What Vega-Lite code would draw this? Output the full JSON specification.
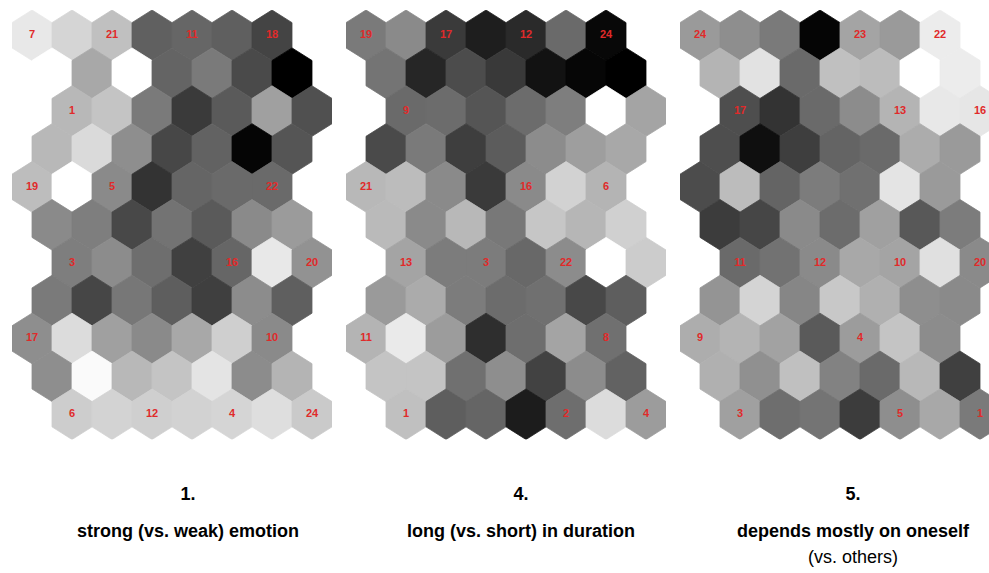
{
 "$schema": "https://vega.github.io/schema/vega-lite/v6.json",
 "padding": {"left": 12, "top": 10, "right": 0, "bottom": 0},
 "background": "white",
 "bounds": "flush",
 "spacing": 14,
 "config": {"view": {"stroke": null}, "font": "Liberation Sans"},
 "resolve": {"scale": {"x": "independent", "y": "independent"}},
 "datasets": {"cells": [
  {"p":1,"r":0,"x":0,"v":232,"lab":"7"},{"p":1,"r":0,"x":1,"v":213},{"p":1,"r":0,"x":2,"v":192,"lab":"21"},{"p":1,"r":0,"x":3,"v":96},{"p":1,"r":0,"x":4,"v":102,"lab":"11"},{"p":1,"r":0,"x":5,"v":95},{"p":1,"r":0,"x":6,"v":68,"lab":"18"},
  {"p":1,"r":1,"x":0.5,"v":255},{"p":1,"r":1,"x":1.5,"v":168},{"p":1,"r":1,"x":2.5,"v":255},{"p":1,"r":1,"x":3.5,"v":100},{"p":1,"r":1,"x":4.5,"v":122},{"p":1,"r":1,"x":5.5,"v":74},{"p":1,"r":1,"x":6.5,"v":0},
  {"p":1,"r":2,"x":1,"v":184,"lab":"1"},{"p":1,"r":2,"x":2,"v":196},{"p":1,"r":2,"x":3,"v":122},{"p":1,"r":2,"x":4,"v":58},{"p":1,"r":2,"x":5,"v":90},{"p":1,"r":2,"x":6,"v":160},{"p":1,"r":2,"x":7,"v":80},
  {"p":1,"r":3,"x":0.5,"v":184},{"p":1,"r":3,"x":1.5,"v":218},{"p":1,"r":3,"x":2.5,"v":142},{"p":1,"r":3,"x":3.5,"v":71},{"p":1,"r":3,"x":4.5,"v":98},{"p":1,"r":3,"x":5.5,"v":5},{"p":1,"r":3,"x":6.5,"v":85},
  {"p":1,"r":4,"x":0,"v":189,"lab":"19"},{"p":1,"r":4,"x":1,"v":255},{"p":1,"r":4,"x":2,"v":138,"lab":"5"},{"p":1,"r":4,"x":3,"v":51},{"p":1,"r":4,"x":4,"v":101},{"p":1,"r":4,"x":5,"v":106},{"p":1,"r":4,"x":6,"v":106,"lab":"22"},
  {"p":1,"r":5,"x":0.5,"v":138},{"p":1,"r":5,"x":1.5,"v":126},{"p":1,"r":5,"x":2.5,"v":72},{"p":1,"r":5,"x":3.5,"v":115},{"p":1,"r":5,"x":4.5,"v":90},{"p":1,"r":5,"x":5.5,"v":138},{"p":1,"r":5,"x":6.5,"v":155},
  {"p":1,"r":6,"x":1,"v":126,"lab":"3"},{"p":1,"r":6,"x":2,"v":140},{"p":1,"r":6,"x":3,"v":110},{"p":1,"r":6,"x":4,"v":64},{"p":1,"r":6,"x":5,"v":102,"lab":"16"},{"p":1,"r":6,"x":6,"v":232},{"p":1,"r":6,"x":7,"v":146,"lab":"20"},
  {"p":1,"r":7,"x":0.5,"v":122},{"p":1,"r":7,"x":1.5,"v":70},{"p":1,"r":7,"x":2.5,"v":119},{"p":1,"r":7,"x":3.5,"v":94},{"p":1,"r":7,"x":4.5,"v":63},{"p":1,"r":7,"x":5.5,"v":140},{"p":1,"r":7,"x":6.5,"v":95},
  {"p":1,"r":8,"x":0,"v":142,"lab":"17"},{"p":1,"r":8,"x":1,"v":220},{"p":1,"r":8,"x":2,"v":160},{"p":1,"r":8,"x":3,"v":138},{"p":1,"r":8,"x":4,"v":168},{"p":1,"r":8,"x":5,"v":207},{"p":1,"r":8,"x":6,"v":138,"lab":"10"},
  {"p":1,"r":9,"x":0.5,"v":142},{"p":1,"r":9,"x":1.5,"v":250},{"p":1,"r":9,"x":2.5,"v":184},{"p":1,"r":9,"x":3.5,"v":196},{"p":1,"r":9,"x":4.5,"v":228},{"p":1,"r":9,"x":5.5,"v":140},{"p":1,"r":9,"x":6.5,"v":180},
  {"p":1,"r":10,"x":1,"v":205,"lab":"6"},{"p":1,"r":10,"x":2,"v":211},{"p":1,"r":10,"x":3,"v":207,"lab":"12"},{"p":1,"r":10,"x":4,"v":210},{"p":1,"r":10,"x":5,"v":213,"lab":"4"},{"p":1,"r":10,"x":6,"v":222},{"p":1,"r":10,"x":7,"v":202,"lab":"24"},

  {"p":2,"r":0,"x":0,"v":122,"lab":"19"},{"p":2,"r":0,"x":1,"v":138},{"p":2,"r":0,"x":2,"v":58,"lab":"17"},{"p":2,"r":0,"x":3,"v":30},{"p":2,"r":0,"x":4,"v":42,"lab":"12"},{"p":2,"r":0,"x":5,"v":106},{"p":2,"r":0,"x":6,"v":8,"lab":"24"},
  {"p":2,"r":1,"x":0.5,"v":116},{"p":2,"r":1,"x":1.5,"v":38},{"p":2,"r":1,"x":2.5,"v":76},{"p":2,"r":1,"x":3.5,"v":57},{"p":2,"r":1,"x":4.5,"v":18},{"p":2,"r":1,"x":5.5,"v":6},{"p":2,"r":1,"x":6.5,"v":0},
  {"p":2,"r":2,"x":1,"v":106,"lab":"9"},{"p":2,"r":2,"x":2,"v":108},{"p":2,"r":2,"x":3,"v":85},{"p":2,"r":2,"x":4,"v":108},{"p":2,"r":2,"x":5,"v":126},{"p":2,"r":2,"x":6,"v":255},{"p":2,"r":2,"x":7,"v":164},
  {"p":2,"r":3,"x":0.5,"v":74},{"p":2,"r":3,"x":1.5,"v":122},{"p":2,"r":3,"x":2.5,"v":62},{"p":2,"r":3,"x":3.5,"v":92},{"p":2,"r":3,"x":4.5,"v":140},{"p":2,"r":3,"x":5.5,"v":158},{"p":2,"r":3,"x":6.5,"v":168},
  {"p":2,"r":4,"x":0,"v":184,"lab":"21"},{"p":2,"r":4,"x":1,"v":188},{"p":2,"r":4,"x":2,"v":138},{"p":2,"r":4,"x":3,"v":58},{"p":2,"r":4,"x":4,"v":138,"lab":"16"},{"p":2,"r":4,"x":5,"v":210},{"p":2,"r":4,"x":6,"v":180,"lab":"6"},
  {"p":2,"r":5,"x":0.5,"v":186},{"p":2,"r":5,"x":1.5,"v":138},{"p":2,"r":5,"x":2.5,"v":184},{"p":2,"r":5,"x":3.5,"v":120},{"p":2,"r":5,"x":4.5,"v":198},{"p":2,"r":5,"x":5.5,"v":182},{"p":2,"r":5,"x":6.5,"v":208},
  {"p":2,"r":6,"x":1,"v":164,"lab":"13"},{"p":2,"r":6,"x":2,"v":124},{"p":2,"r":6,"x":3,"v":124,"lab":"3"},{"p":2,"r":6,"x":4,"v":104},{"p":2,"r":6,"x":5,"v":140,"lab":"22"},{"p":2,"r":6,"x":6,"v":255},{"p":2,"r":6,"x":7,"v":204},
  {"p":2,"r":7,"x":0.5,"v":154},{"p":2,"r":7,"x":1.5,"v":171},{"p":2,"r":7,"x":2.5,"v":124},{"p":2,"r":7,"x":3.5,"v":108},{"p":2,"r":7,"x":4.5,"v":112},{"p":2,"r":7,"x":5.5,"v":72},{"p":2,"r":7,"x":6.5,"v":94},
  {"p":2,"r":8,"x":0,"v":180,"lab":"11"},{"p":2,"r":8,"x":1,"v":234},{"p":2,"r":8,"x":2,"v":156},{"p":2,"r":8,"x":3,"v":46},{"p":2,"r":8,"x":4,"v":110},{"p":2,"r":8,"x":5,"v":164},{"p":2,"r":8,"x":6,"v":112,"lab":"8"},
  {"p":2,"r":9,"x":0.5,"v":196},{"p":2,"r":9,"x":1.5,"v":196},{"p":2,"r":9,"x":2.5,"v":112},{"p":2,"r":9,"x":3.5,"v":142},{"p":2,"r":9,"x":4.5,"v":66},{"p":2,"r":9,"x":5.5,"v":140},{"p":2,"r":9,"x":6.5,"v":98},
  {"p":2,"r":10,"x":1,"v":192,"lab":"1"},{"p":2,"r":10,"x":2,"v":94},{"p":2,"r":10,"x":3,"v":101},{"p":2,"r":10,"x":4,"v":28},{"p":2,"r":10,"x":5,"v":110,"lab":"2"},{"p":2,"r":10,"x":6,"v":220},{"p":2,"r":10,"x":7,"v":156,"lab":"4"},

  {"p":3,"r":0,"x":0,"v":154,"lab":"24"},{"p":3,"r":0,"x":1,"v":142},{"p":3,"r":0,"x":2,"v":122},{"p":3,"r":0,"x":3,"v":5},{"p":3,"r":0,"x":4,"v":164,"lab":"23"},{"p":3,"r":0,"x":5,"v":154},{"p":3,"r":0,"x":6,"v":236,"lab":"22"},
  {"p":3,"r":1,"x":0.5,"v":180},{"p":3,"r":1,"x":1.5,"v":226},{"p":3,"r":1,"x":2.5,"v":106},{"p":3,"r":1,"x":3.5,"v":192},{"p":3,"r":1,"x":4.5,"v":188},{"p":3,"r":1,"x":5.5,"v":255},{"p":3,"r":1,"x":6.5,"v":236},
  {"p":3,"r":2,"x":1,"v":78,"lab":"17"},{"p":3,"r":2,"x":2,"v":51},{"p":3,"r":2,"x":3,"v":106},{"p":3,"r":2,"x":4,"v":140},{"p":3,"r":2,"x":5,"v":180,"lab":"13"},{"p":3,"r":2,"x":6,"v":232},{"p":3,"r":2,"x":7,"v":230,"lab":"16"},
  {"p":3,"r":3,"x":0.5,"v":78},{"p":3,"r":3,"x":1.5,"v":15},{"p":3,"r":3,"x":2.5,"v":62},{"p":3,"r":3,"x":3.5,"v":100},{"p":3,"r":3,"x":4.5,"v":106},{"p":3,"r":3,"x":5.5,"v":172},{"p":3,"r":3,"x":6.5,"v":154},
  {"p":3,"r":4,"x":0,"v":76},{"p":3,"r":4,"x":1,"v":188},{"p":3,"r":4,"x":2,"v":100},{"p":3,"r":4,"x":3,"v":124},{"p":3,"r":4,"x":4,"v":112},{"p":3,"r":4,"x":5,"v":228},{"p":3,"r":4,"x":6,"v":154},
  {"p":3,"r":5,"x":0.5,"v":60},{"p":3,"r":5,"x":1.5,"v":70},{"p":3,"r":5,"x":2.5,"v":138},{"p":3,"r":5,"x":3.5,"v":108},{"p":3,"r":5,"x":4.5,"v":160},{"p":3,"r":5,"x":5.5,"v":88},{"p":3,"r":5,"x":6.5,"v":124},
  {"p":3,"r":6,"x":1,"v":106,"lab":"11"},{"p":3,"r":6,"x":2,"v":114},{"p":3,"r":6,"x":3,"v":138,"lab":"12"},{"p":3,"r":6,"x":4,"v":168},{"p":3,"r":6,"x":5,"v":164,"lab":"10"},{"p":3,"r":6,"x":6,"v":224},{"p":3,"r":6,"x":7,"v":138,"lab":"20"},
  {"p":3,"r":7,"x":0.5,"v":148},{"p":3,"r":7,"x":1.5,"v":212},{"p":3,"r":7,"x":2.5,"v":134},{"p":3,"r":7,"x":3.5,"v":200},{"p":3,"r":7,"x":4.5,"v":176},{"p":3,"r":7,"x":5.5,"v":142},{"p":3,"r":7,"x":6.5,"v":138},
  {"p":3,"r":8,"x":0,"v":173,"lab":"9"},{"p":3,"r":8,"x":1,"v":180},{"p":3,"r":8,"x":2,"v":162},{"p":3,"r":8,"x":3,"v":90},{"p":3,"r":8,"x":4,"v":156,"lab":"4"},{"p":3,"r":8,"x":5,"v":196},{"p":3,"r":8,"x":6,"v":140},
  {"p":3,"r":9,"x":0.5,"v":176},{"p":3,"r":9,"x":1.5,"v":144},{"p":3,"r":9,"x":2.5,"v":192},{"p":3,"r":9,"x":3.5,"v":130},{"p":3,"r":9,"x":4.5,"v":106},{"p":3,"r":9,"x":5.5,"v":184},{"p":3,"r":9,"x":6.5,"v":64},
  {"p":3,"r":10,"x":1,"v":160,"lab":"3"},{"p":3,"r":10,"x":2,"v":110},{"p":3,"r":10,"x":3,"v":116},{"p":3,"r":10,"x":4,"v":60},{"p":3,"r":10,"x":5,"v":142,"lab":"5"},{"p":3,"r":10,"x":6,"v":168},{"p":3,"r":10,"x":7,"v":122,"lab":"1"}
 ]},
 "hconcat": [
  {
   "width": 320, "height": 429.5,
   "data": {"name": "cells"},
   "transform": [{"filter": "datum.p == 1"}],
   "title": {"text": ["1.", "strong (vs. weak) emotion"], "orient": "bottom", "anchor": "middle", "baseline": "top", "offset": 46.7, "dx": 16, "fontSize": 18, "fontWeight": "bold", "lineHeight": 36.5, "color": "#000000", "font": "Liberation Sans"},
   "encoding": {
    "x": {"field": "x", "type": "quantitative", "scale": {"domain": [-0.5, 7.5], "nice": false, "zero": false}, "axis": null},
    "y": {"field": "r", "type": "quantitative", "scale": {"domain": [-0.6667, 10.6667], "nice": false, "zero": false, "reverse": true}, "axis": null}
   },
   "layer": [
    {"mark": {"type": "point", "shape": "M0,-1.263L1,-0.632L1,0.632L0,1.263L-1,0.632L-1,-0.632Z", "size": 1600, "filled": true, "opacity": 1, "strokeWidth": 0.8, "clip": true},
     "encoding": {
      "color": {"field": "v", "type": "quantitative", "scale": {"domain": [0, 255], "range": ["#000000", "#ffffff"], "interpolate": "rgb"}, "legend": null},
      "stroke": {"field": "v", "type": "quantitative", "scale": {"domain": [0, 255], "range": ["#000000", "#ffffff"], "interpolate": "rgb"}, "legend": null}
     }},
    {"transform": [{"filter": "datum.lab"}],
     "mark": {"type": "text", "color": "#e02a2a", "fontSize": 11, "fontWeight": "bold", "font": "Liberation Sans", "clip": true},
     "encoding": {"text": {"field": "lab", "type": "nominal"}}}
   ]
  },
  {
   "width": 320, "height": 429.5,
   "data": {"name": "cells"},
   "transform": [{"filter": "datum.p == 2"}],
   "title": {"text": ["4.", "long (vs. short) in duration"], "orient": "bottom", "anchor": "middle", "baseline": "top", "offset": 46.7, "dx": 15, "fontSize": 18, "fontWeight": "bold", "lineHeight": 36.5, "color": "#000000", "font": "Liberation Sans"},
   "encoding": {
    "x": {"field": "x", "type": "quantitative", "scale": {"domain": [-0.5, 7.5], "nice": false, "zero": false}, "axis": null},
    "y": {"field": "r", "type": "quantitative", "scale": {"domain": [-0.6667, 10.6667], "nice": false, "zero": false, "reverse": true}, "axis": null}
   },
   "layer": [
    {"mark": {"type": "point", "shape": "M0,-1.263L1,-0.632L1,0.632L0,1.263L-1,0.632L-1,-0.632Z", "size": 1600, "filled": true, "opacity": 1, "strokeWidth": 0.8, "clip": true},
     "encoding": {
      "color": {"field": "v", "type": "quantitative", "scale": {"domain": [0, 255], "range": ["#000000", "#ffffff"], "interpolate": "rgb"}, "legend": null},
      "stroke": {"field": "v", "type": "quantitative", "scale": {"domain": [0, 255], "range": ["#000000", "#ffffff"], "interpolate": "rgb"}, "legend": null}
     }},
    {"transform": [{"filter": "datum.lab"}],
     "mark": {"type": "text", "color": "#e02a2a", "fontSize": 11, "fontWeight": "bold", "font": "Liberation Sans", "clip": true},
     "encoding": {"text": {"field": "lab", "type": "nominal"}}}
   ]
  },
  {
   "width": 309, "height": 429.5,
   "data": {"name": "cells"},
   "transform": [{"filter": "datum.p == 3"}],
   "title": {"text": ["5.", "depends mostly on oneself"], "subtitle": "(vs. others)", "orient": "bottom", "anchor": "middle", "baseline": "top", "offset": 46.7, "dx": 18.5, "fontSize": 18, "fontWeight": "bold", "lineHeight": 36.5, "color": "#000000", "font": "Liberation Sans", "subtitleFont": "Liberation Sans", "subtitleFontSize": 18, "subtitleFontWeight": "normal", "subtitleColor": "#000000", "subtitlePadding": 8},
   "encoding": {
    "x": {"field": "x", "type": "quantitative", "scale": {"domain": [-0.5, 7.225], "nice": false, "zero": false}, "axis": null},
    "y": {"field": "r", "type": "quantitative", "scale": {"domain": [-0.6667, 10.6667], "nice": false, "zero": false, "reverse": true}, "axis": null}
   },
   "layer": [
    {"mark": {"type": "point", "shape": "M0,-1.263L1,-0.632L1,0.632L0,1.263L-1,0.632L-1,-0.632Z", "size": 1600, "filled": true, "opacity": 1, "strokeWidth": 0.8, "clip": true},
     "encoding": {
      "color": {"field": "v", "type": "quantitative", "scale": {"domain": [0, 255], "range": ["#000000", "#ffffff"], "interpolate": "rgb"}, "legend": null},
      "stroke": {"field": "v", "type": "quantitative", "scale": {"domain": [0, 255], "range": ["#000000", "#ffffff"], "interpolate": "rgb"}, "legend": null}
     }},
    {"transform": [{"filter": "datum.lab"}],
     "mark": {"type": "text", "color": "#e02a2a", "fontSize": 11, "fontWeight": "bold", "font": "Liberation Sans", "clip": true},
     "encoding": {"text": {"field": "lab", "type": "nominal"}}}
   ]
  }
 ]
}
